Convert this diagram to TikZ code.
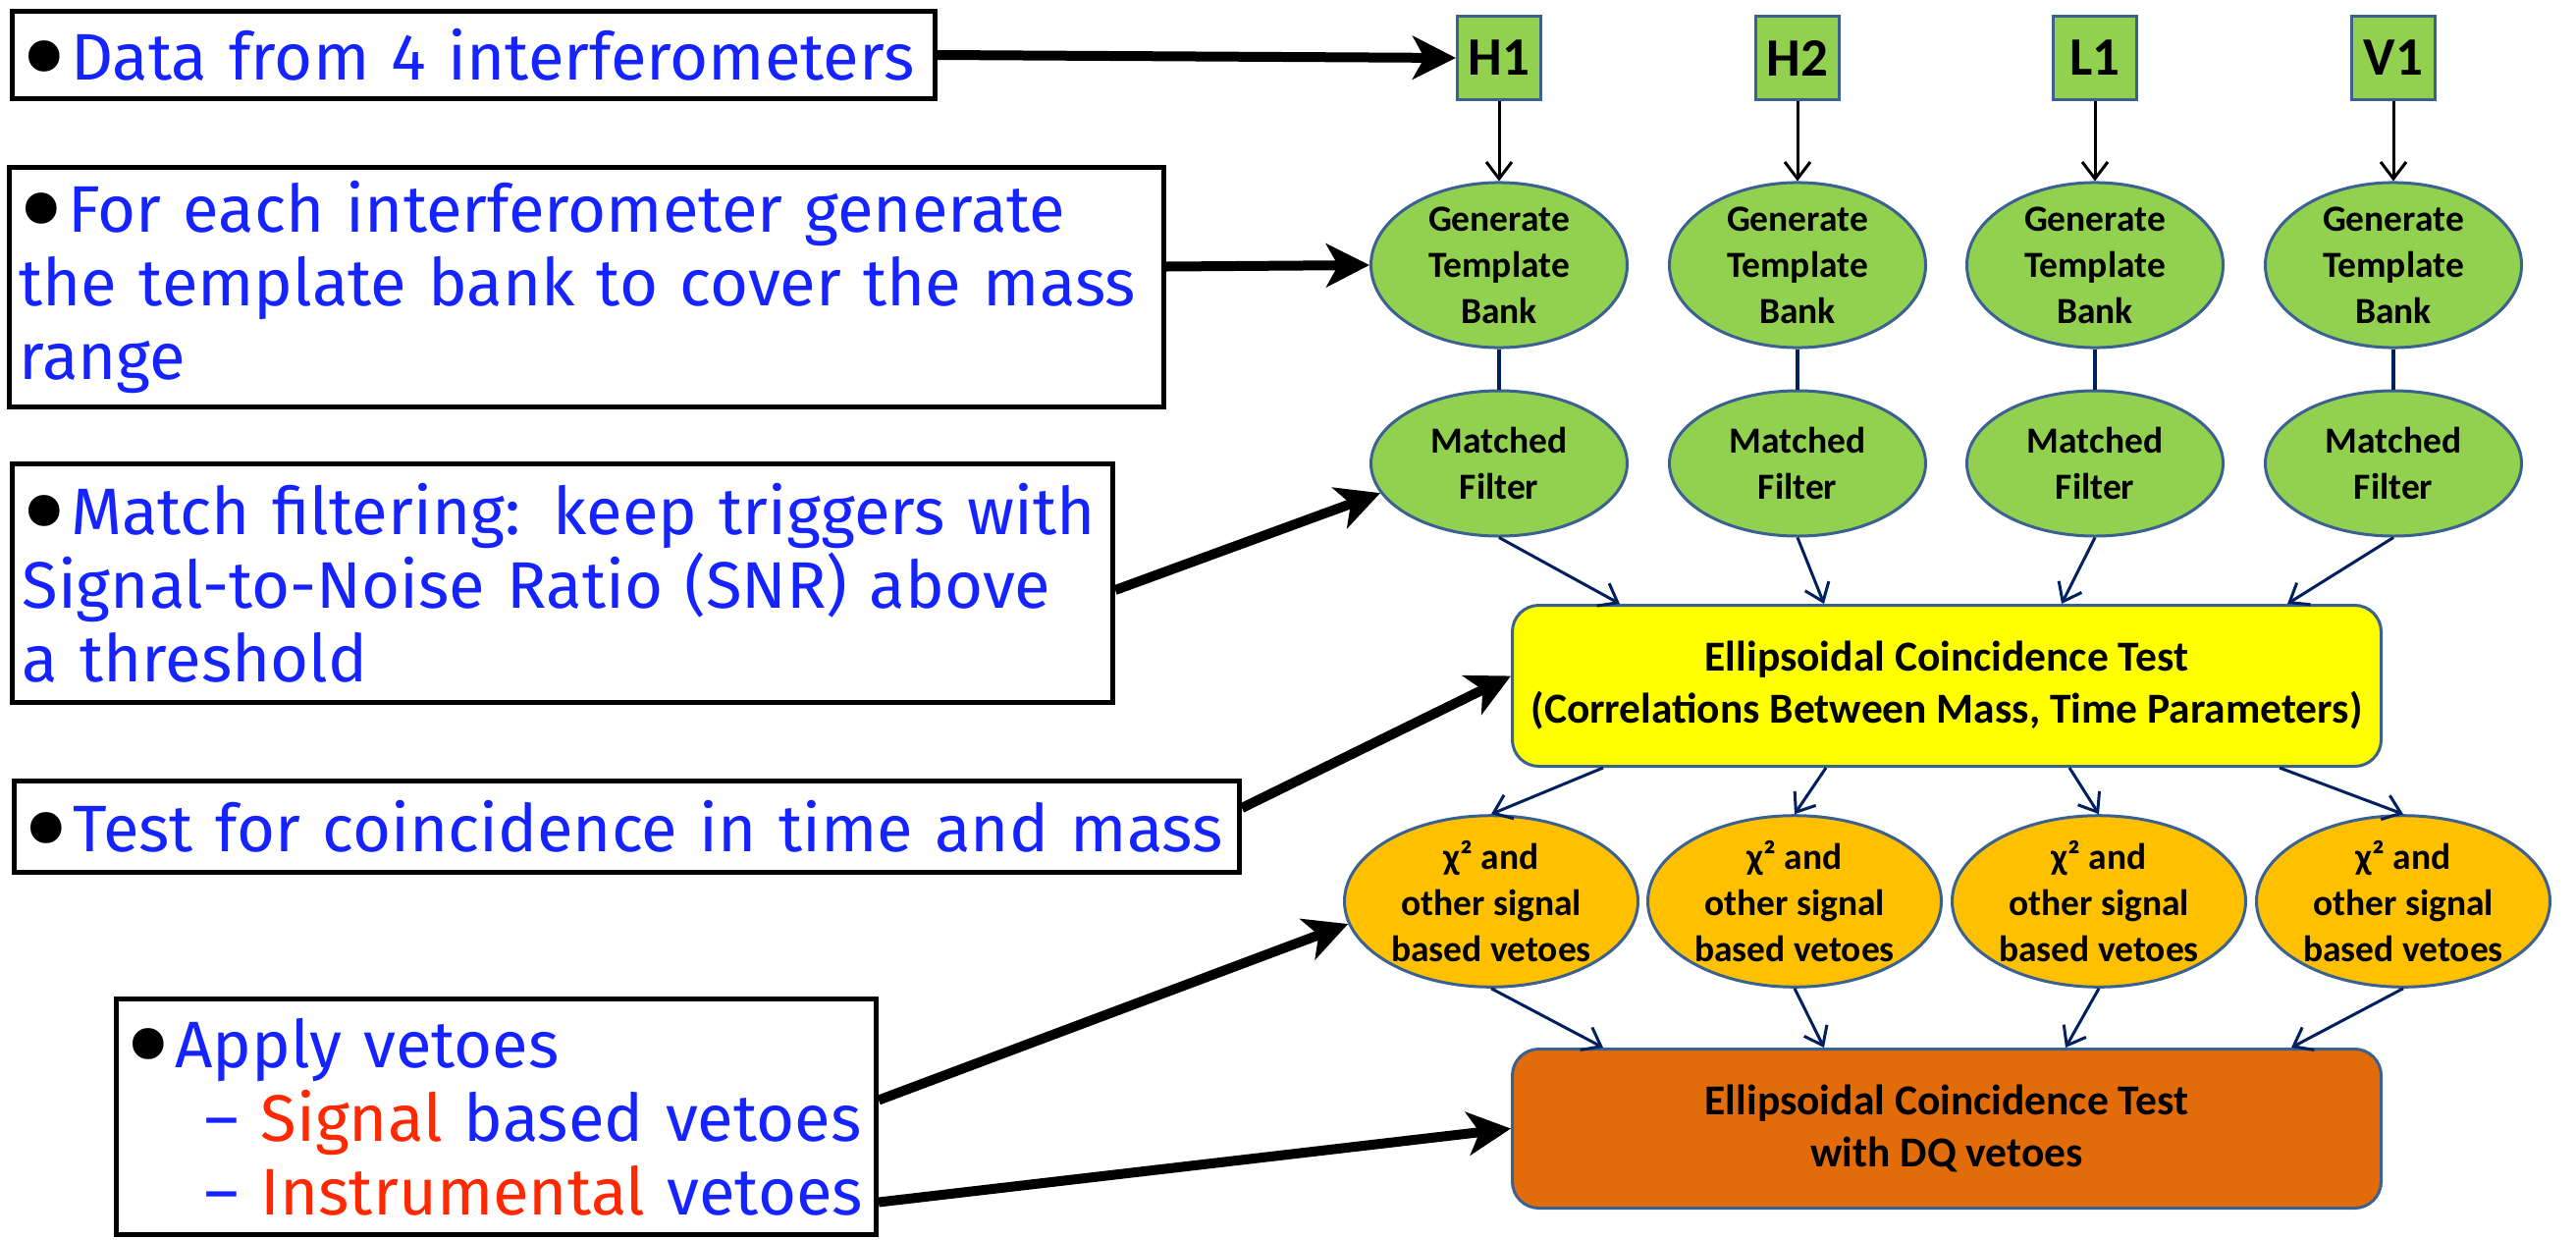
\documentclass[tikz,border=0pt]{standalone}
\usepackage{fontspec}
\setmainfont{Fira Sans}
\newfontfamily\flowfont{Carlito}
\usetikzlibrary{arrows.meta,shapes.geometric}

\definecolor{notetext}{RGB}{20,35,255}
\definecolor{notered}{RGB}{255,40,0}
\definecolor{ifogreen}{RGB}{146,208,80}
\definecolor{edgeblue}{RGB}{59,97,144}
\definecolor{navy}{RGB}{0,32,96}
\definecolor{coinyellow}{RGB}{255,255,0}
\definecolor{vetoamber}{RGB}{255,192,0}
\definecolor{dqorange}{RGB}{227,108,10}

% large black bullet that opens each note (kept out of the line height)
\newcommand\notebullet{\textcolor{black}{\smash{\raisebox{-0.36em}{\scalebox{2.1}{•}}}}\hspace{0.06em}}

\begin{document}
\begin{tikzpicture}[x=1pt,y=-1pt,
  notebox/.style={draw=black, line width=5pt, fill=white, inner xsep=10pt, inner ysep=0pt,
    align=left, text=notetext, font=\fontsize{67}{75}\selectfont},
  ifo/.style={rectangle, draw=edgeblue, line width=3pt, fill=ifogreen, minimum size=85pt,
    inner sep=0pt, font=\flowfont\bfseries\fontsize{55}{60}\selectfont},
  stage/.style={ellipse, draw=edgeblue, line width=3pt, fill=ifogreen, inner sep=0pt,
    align=center, font=\flowfont\bfseries\fontsize{37.5}{47}\selectfont},
  gen/.style={stage, minimum width=261pt, minimum height=161pt},
  mf/.style={stage, minimum width=261pt, minimum height=148pt},
  veto/.style={stage, fill=vetoamber, minimum width=299pt, minimum height=164pt},
  coinbox/.style={rectangle, rounded corners=27pt, draw=edgeblue, line width=3pt,
    minimum width=885pt, inner sep=0pt, align=center,
    font=\flowfont\bfseries\fontsize{43.5}{53}\selectfont},
  feed/.style={draw=black, line width=3pt, -{Straight Barb[length=17pt,width=26pt]}},
  flow/.style={draw=navy, line width=3pt, -{Straight Barb[length=17pt,width=26pt]}},
  link/.style={draw=navy, line width=3.5pt},
  pointer/.style={draw=black, line width=10pt, -{Stealth[length=44pt,width=44pt,inset=12pt]}}
]
\useasboundingbox (0,0) rectangle (2624,1262);

% ---- explanatory notes on the left ----
\node[notebox, minimum width=940pt, minimum height=89pt, text width=920pt] (b1) at (482.5,56)
  {\notebullet Data from 4 interferometers};
\node[notebox, minimum width=1176pt, minimum height=244pt, text width=1156pt] (b2) at (597.5,292.5)
  {\notebullet For each interferometer generate\\the template bank to cover the mass\\range};
\node[notebox, minimum width=1121pt, minimum height=243pt, text width=1101pt] (b3) at (573,594)
  {\notebullet Match filtering: keep triggers with\\Signal-to-Noise Ratio (SNR) above\\a threshold};
\node[notebox, minimum width=1248pt, minimum height=93pt, text width=1228pt] (b4) at (638.5,842)
  {\notebullet Test for coincidence in time and mass};
\node[notebox, minimum width=774pt, minimum height=240pt, text width=754pt] (b5) at (505.5,1137.5)
  {\notebullet Apply vetoes\\
   \hspace*{80pt}– {\color{notered}Signal} based vetoes\\
   \hspace*{80pt}– {\color{notered}Instrumental} vetoes};

% ---- pipeline ----
\foreach \n/\lab/\x in {1/H1/1527, 2/H2/1831, 3/L1/2134, 4/V1/2438} {
  \node[ifo] (h\n) at (\x,59) {\lab};
  \node[gen] (g\n) at (\x,270) {Generate\\Template\\Bank};
  \node[mf]  (m\n) at (\x,472) {Matched\\Filter};
}
\node[coinbox, fill=coinyellow, minimum height=164pt] (coin) at (1983,698.5)
  {Ellipsoidal Coincidence Test\\(Correlations Between Mass, Time Parameters)};
\foreach \n/\x in {1/1519, 2/1828, 3/2138, 4/2448}
  \node[veto] (v\n) at (\x,918) {χ² and\\other signal\\based vetoes};
\node[coinbox, fill=dqorange, minimum height=162pt] (dq) at (1983,1149.5)
  {Ellipsoidal Coincidence Test\\with DQ vetoes};

\foreach \n in {1,2,3,4} {
  \draw[feed] (h\n.south) -- (g\n.north);
  \draw[link] (g\n.south) -- (m\n.north);
}
\foreach \n/\s in {1/111, 2/319, 3/561, 4/791}
  \draw[flow] (m\n.south) -- ([xshift=\s pt]coin.north west);
\foreach \n/\s in {1/94, 2/321, 3/569, 4/783}
  \draw[flow] ([xshift=\s pt]coin.south west) -- (v\n.north);
\foreach \n/\s in {1/94, 2/319, 3/565, 4/795}
  \draw[flow] (v\n.south) -- ([xshift=\s pt]dq.north west);

% ---- pointers from the notes ----
\draw[pointer] (b1.east) -- (h1.west);
\draw[pointer] ([yshift=21pt]b2.east) -- (g1.west);
\draw[pointer] ([yshift=-7pt]b3.east) -- (m1.194);
\draw[pointer] ([yshift=19pt]b4.east) -- ([yshift=10pt]coin.west);
\draw[pointer] ([yshift=17pt]b5.east) -- (v1.189);
\draw[pointer] ([yshift=-87pt]b5.east) -- (dq.west);
\end{tikzpicture}
\end{document}
